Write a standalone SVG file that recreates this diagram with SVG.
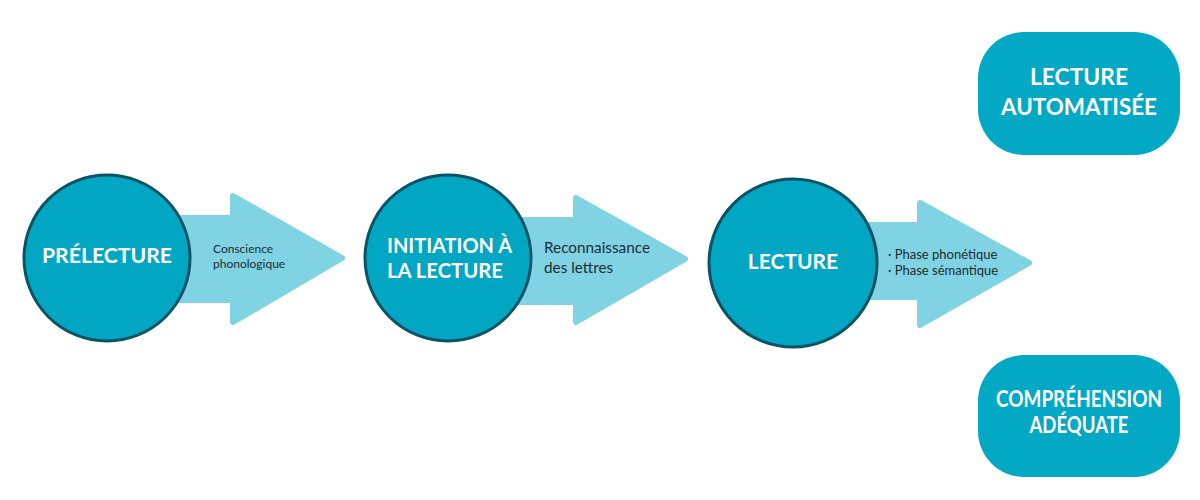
<svg xmlns="http://www.w3.org/2000/svg" width="1200" height="500" viewBox="0 0 1200 500">
<style>
.bg{fill:#ffffff}
.arrow{fill:#80d3e3;stroke:#80d3e3;stroke-width:6;stroke-linejoin:round}
.circle{fill:#01a6c3;stroke:#0d5366;stroke-width:3}
.box{fill:#03a8c5}
.title{font-family:Lato,"Noto Sans",sans-serif;font-weight:bold;fill:#ffffff;font-size:21px}
.big{font-size:23px}
.note{font-family:Lato,"Noto Sans",sans-serif;fill:#1e2b33}
</style>
<rect class="bg" x="0" y="0" width="1200" height="500"/>
<g id="connectors">
  <g id="arrow1">
    <polygon class="arrow" points="150,218 233,218 233,196 342,258 233,322 233,300 150,300"/>
    <text class="note" font-size="12" x="213" y="253">Conscience</text>
    <text class="note" font-size="12" x="213" y="268">phonologique</text>
  </g>
  <g id="arrow2">
    <polygon class="arrow" points="490,220 576,220 576,198 685,259 576,322 576,302 490,302"/>
    <text class="note" font-size="15.3" x="544" y="253">Reconnaissance</text>
    <text class="note" font-size="15.3" x="544" y="273">des lettres</text>
  </g>
  <g id="arrow3">
    <polygon class="arrow" points="840,225 920,225 920,203 1029,263 920,325 920,297 840,297"/>
    <text class="note" font-size="13" x="888" y="259">· Phase phonétique</text>
    <text class="note" font-size="13" x="888" y="275">· Phase sémantique</text>
  </g>
</g>
<g id="node-prelecture">
  <circle class="circle" cx="107" cy="258" r="83"/>
  <text class="title" x="107" y="263" text-anchor="middle" textLength="130" lengthAdjust="spacingAndGlyphs">PRÉLECTURE</text>
</g>
<g id="node-initiation">
  <circle class="circle" cx="448" cy="258" r="83"/>
  <text class="title" x="387" y="253" textLength="125" lengthAdjust="spacingAndGlyphs">INITIATION À</text>
  <text class="title" x="387" y="278" textLength="116" lengthAdjust="spacingAndGlyphs">LA LECTURE</text>
</g>
<g id="node-lecture">
  <circle class="circle" cx="793" cy="263" r="84"/>
  <text class="title" x="793" y="269" text-anchor="middle">LECTURE</text>
</g>
<g id="node-automatisee">
  <rect class="box" x="978" y="32" width="202" height="123" rx="46"/>
  <text class="title big" x="1079" y="85" text-anchor="middle" textLength="98" lengthAdjust="spacingAndGlyphs">LECTURE</text>
  <text class="title big" x="1079" y="115" text-anchor="middle" textLength="156" lengthAdjust="spacingAndGlyphs">AUTOMATISÉE</text>
</g>
<g id="node-comprehension">
  <rect class="box" x="978" y="355" width="202" height="122" rx="46"/>
  <text class="title big" x="1079" y="407" text-anchor="middle" textLength="166" lengthAdjust="spacingAndGlyphs">COMPRÉHENSION</text>
  <text class="title big" x="1079" y="433" text-anchor="middle" textLength="99" lengthAdjust="spacingAndGlyphs">ADÉQUATE</text>
</g>
</svg>
